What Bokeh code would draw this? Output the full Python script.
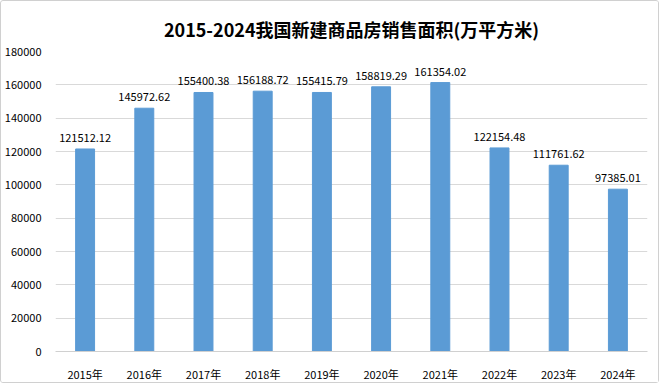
from bokeh.plotting import figure
from bokeh.models import ColumnDataSource, FixedTicker, NumeralTickFormatter, Range1d, FactorRange
from bokeh.core.properties import value
from bokeh.embed import file_html
from bokeh.resources import INLINE

title_text = "2015-2024我国新建商品房销售面积(万平方米)"
years = ["2015年", "2016年", "2017年", "2018年", "2019年", "2020年", "2021年", "2022年", "2023年", "2024年"]
areas = [121512.12, 145972.62, 155400.38, 156188.72, 155415.79, 158819.29, 161354.02, 122154.48, 111761.62, 97385.01]
labels = ["121512.12", "145972.62", "155400.38", "156188.72", "155415.79", "158819.29", "161354.02", "122154.48", "111761.62", "97385.01"]
y_ticks = [0, 20000, 40000, 60000, 80000, 100000, 120000, 140000, 160000, 180000]

FONT = "Noto Sans CJK SC"

src = ColumnDataSource(dict(x=years, y=areas, lab=labels))

p = figure(width=659, height=383, x_range=FactorRange(*years, range_padding=0),
           y_range=Range1d(0, 180000), output_backend="svg", toolbar_location=None,
           min_border_left=54, min_border_right=13, min_border_top=50, min_border_bottom=32,
           title=title_text,
           styles={"border": "1px solid #d0d0d0", "border-radius": "3px"})

p.title.align = "center"
p.title.vertical_align = "bottom"
p.title.text_font = FONT
p.title.text_font_size = "18px"
p.title.text_font_style = "bold"
p.title.text_color = "#000000"
p.title.offset = 0
p.title.standoff = 20

p.vbar(x="x", top="y", width=0.32, source=src, color="#5B9BD5")
p.text(x="x", y="y", text="lab", source=src, text_align="center", text_baseline="bottom",
       y_offset=-7, text_font=value(FONT), text_font_size="11px", text_color="#000000")

p.yaxis.ticker = FixedTicker(ticks=y_ticks)
p.yaxis.formatter = NumeralTickFormatter(format="0")
p.yaxis.axis_line_color = None
p.yaxis.major_tick_line_color = None
p.yaxis.minor_tick_line_color = None
p.yaxis.major_label_text_font = FONT
p.yaxis.major_label_text_font_size = "11px"
p.yaxis.major_label_text_color = "#000000"
p.yaxis.major_label_standoff = 8

p.xaxis.axis_line_color = "#d0d0d0"
p.xaxis.major_tick_line_color = None
p.xaxis.minor_tick_line_color = None
p.xaxis.major_label_text_font = FONT
p.xaxis.major_label_text_font_size = "11px"
p.xaxis.major_label_text_color = "#000000"
p.xaxis.major_label_standoff = 8

p.xgrid.grid_line_color = None
p.ygrid.grid_line_color = "#d9d9d9"
p.outline_line_color = None

open("out.html", "w").write(file_html(p, INLINE))
